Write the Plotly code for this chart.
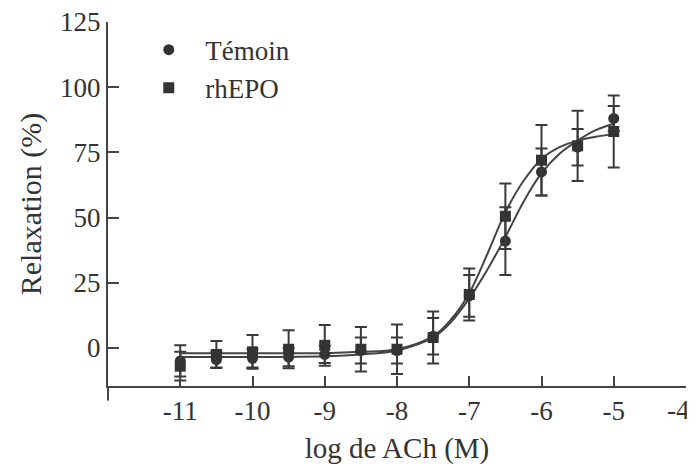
import plotly.graph_objects as go

# Data points (log [ACh] in M)
log_ach = [-11, -10.5, -10, -9.5, -9, -8.5, -8, -7.5, -7, -6.5, -6, -5.5, -5]
temoin = [-5, -4.5, -4, -3.5, -2.5, -1, -1, 4.5, 20, 41, 67.5, 77, 88]
temoin_err = [6, 3, 3.5, 3.5, 3.3, 5, 5, 7, 8, 13, 9, 7, 4.8]
rhepo = [-7, -2.5, -1.5, -0.5, 1, -0.5, -0.5, 4, 20.5, 50.5, 72, 77.5, 83]
rhepo_err = [5.5, 5.2, 6.5, 7.3, 7.8, 8.5, 9.5, 10, 10, 12.6, 13.5, 13.5, 13.8]

# Fitted curves
curve_x = [-11, -10, -9, -8.5, -8, -7.5, -7.25, -7, -6.75, -6.5, -6.25, -6, -5.75, -5.5, -5.25, -5]
curve_temoin = [-3.5, -3.5, -3.2, -2.5, -1, 4, 10, 19, 30, 42.5, 56, 67, 74.5, 79.5, 83.5, 86]
curve_rhepo = [-2, -2, -2, -1.5, -0.5, 4.5, 11, 21, 36, 52, 64, 72.5, 77, 79.5, 81, 82]

x_ticks = [-11, -10, -9, -8, -7, -6, -5, -4]
y_ticks = [0, 25, 50, 75, 100, 125]

ink = "#333333"
line_col = "#444444"
font_family = "Liberation Serif"

fig = go.Figure()

fig.add_trace(go.Scatter(x=curve_x, y=curve_temoin, mode="lines",
                         line=dict(color=line_col, width=2, shape="spline"),
                         showlegend=False, hoverinfo="skip"))
fig.add_trace(go.Scatter(x=curve_x, y=curve_rhepo, mode="lines",
                         line=dict(color=line_col, width=2, shape="spline"),
                         showlegend=False, hoverinfo="skip"))

fig.add_trace(go.Scatter(x=log_ach, y=temoin, mode="markers", name="Témoin",
                         legendgroup="a",
                         marker=dict(symbol="circle", size=11, color=ink),
                         error_y=dict(type="data", array=temoin_err, color="#3a3a3a",
                                      thickness=2, width=6)))
fig.add_trace(go.Scatter(x=log_ach, y=rhepo, mode="markers", name="rhEPO",
                         legendgroup="b",
                         marker=dict(symbol="square", size=11, color=ink),
                         error_y=dict(type="data", array=rhepo_err, color="#3a3a3a",
                                      thickness=2, width=6)))

tick_font = dict(family=font_family, size=27, color=ink)

# The last x tick label sits at the right edge of the page: draw it right-aligned
x_ticktext = [str(v) for v in x_ticks[:-1]] + [""]
fig.add_annotation(x=x_ticks[-1], xref="x", y=0, yref="paper",
                   text=str(x_ticks[-1]), showarrow=False,
                   xanchor="right", yanchor="middle", xshift=6, yshift=-24,
                   font=tick_font)

# The page body has an 8 px margin, so the figure is sized 8 px smaller
fig.update_layout(
    width=687, height=464,
    margin=dict(l=100, r=9, t=14, b=86),
    paper_bgcolor="white", plot_bgcolor="white",
    font=dict(family=font_family, size=27, color=ink),
    showlegend=True,
    legend=dict(x=0.042, y=0.99, xanchor="left", yanchor="top",
                bgcolor="rgba(0,0,0,0)", tracegroupgap=0, itemwidth=63,
                font=dict(family=font_family, size=27, color=ink)),
    xaxis=dict(range=[-12, -4], tickvals=x_ticks, ticktext=x_ticktext,
               tickfont=tick_font,
               showline=True, linecolor=line_col, linewidth=2,
               ticks="inside", ticklen=10, tickwidth=2, tickcolor=line_col,
               showgrid=False, zeroline=False, automargin=False,
               title=dict(text="log de ACh (M)", standoff=12,
                          font=dict(family=font_family, size=29, color=ink))),
    yaxis=dict(range=[-14.6, 125], tickvals=y_ticks, tickfont=tick_font,
               ticklabeloverflow="allow",
               showline=True, linecolor=line_col, linewidth=2,
               ticks="inside", ticklen=11, tickwidth=2, tickcolor=line_col,
               showgrid=False, zeroline=False, automargin=False,
               title=dict(text="Relaxation (%)", standoff=10,
                          font=dict(family=font_family, size=30, color=ink))),
)

# Small extension of the y axis line below the x axis, as in the original
fig.add_shape(type="line", xref="paper", yref="paper", x0=0, x1=0, y0=0, y1=-0.04,
              line=dict(color=line_col, width=2))

fig.write_html("out.html")
